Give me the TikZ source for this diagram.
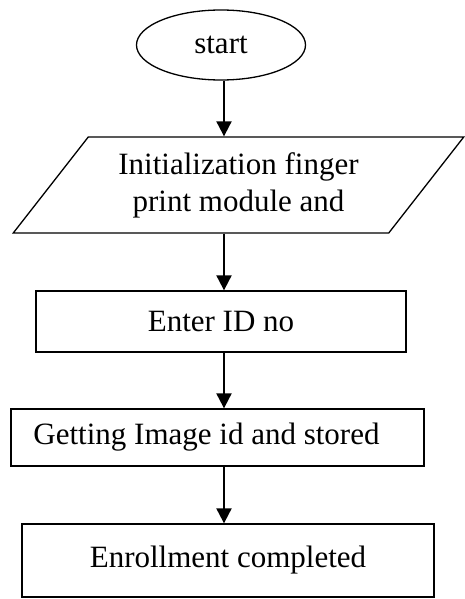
\documentclass[tikz,border=0pt]{standalone}
\usepackage{fontspec}
\setmainfont{Liberation Serif}
\usepackage{tikz}
\usetikzlibrary{shapes,shapes.geometric}
\usetikzlibrary{arrows.meta}
\tikzset{
	flowtext/.style={font=\fontsize{31}{37}\selectfont,inner sep=0pt},
	startbox/.style={flowtext,draw,ellipse,line width=1.3pt,minimum width=169pt,minimum height=70pt},
	iobox/.style={flowtext,draw,trapezium,trapezium left angle=47.5,trapezium right angle=132.5,trapezium stretches=true,line width=1.3pt,minimum width=453pt,minimum height=96pt,align=center},
	procbox/.style={flowtext,draw,rectangle,line width=1.3pt},
	flowarrow/.style={line width=2pt,-{Triangle[width=15pt,length=15pt]}}
}

\begin{document}
\begin{tikzpicture}[x=1pt,y=-1pt]
			\useasboundingbox (0,0) rectangle (465,599);
			\node[startbox] (start) at (221,45) {start};
			\node[iobox] (init) at (238.5,185) {Initialization finger\\print module and};
			\node[procbox,minimum width=370pt,minimum height=61pt] (enter) at (221,321.5) {Enter ID no};
			\node[procbox,minimum width=413pt,minimum height=57pt] (image) at (217.5,437.5) {Getting Image id and stored\hspace*{22pt}};
			\node[procbox,minimum width=412pt,minimum height=73pt] (done) at (228,560.5) {\raisebox{6pt}{Enrollment completed}};
			\coordinate (mid) at (224,0);
			\draw[flowarrow] (start.south -| mid) -- (init.north -| mid);
			\draw[flowarrow] (init.south -| mid) -- (enter.north -| mid);
			\draw[flowarrow] (enter.south -| mid) -- (image.north -| mid);
			\draw[flowarrow] (image.south -| mid) -- (done.north -| mid);
		\end{tikzpicture}
\end{document}
